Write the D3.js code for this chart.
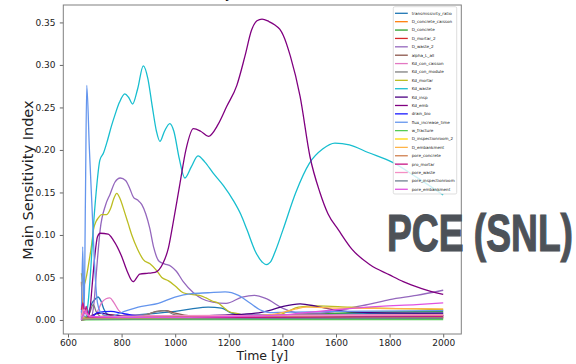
<!DOCTYPE html>
<html>
<head>
<meta charset="utf-8">
<script src="https://cdn.jsdelivr.net/npm/d3@7"></script>
<style>
  html, body { margin: 0; padding: 0; background: #fff; }
  svg { display: block; }
</style>
</head>
<body>
<svg id="chart" width="576" height="364"></svg>
<script>
// Main sensitivity index of each parameter over time, as [year, index] pairs
const transmissivityRatio = [[650,0],[668,0.003],[680,0.012],[690,0.02],[700,0.024],[712,0.027],[722,0.023],[735,0.012],[750,0.006],[780,0.004],[850,0.006],[936,0.008],[1000,0.01],[1061,0.013],[1123,0.015],[1173,0.014],[1211,0.008],[1260,0.006],[1400,0.006],[1600,0.007],[2000,0.008]];
const dConcreteCaisson = [[650,0.045],[654,0.018],[660,0.004],[700,0.003],[760,0.006],[800,0.004],[900,0.003],[1100,0.003],[1300,0.004],[1600,0.005],[2000,0.006]];
const dConcrete = [[650,0],[700,0.002],[1000,0.002],[1200,0.003],[1350,0.005],[1500,0.007],[1700,0.009],[2000,0.01]];
const dMortar2 = [[650,0.01],[656,0.002],[700,0.003],[900,0.002],[1500,0.002],[2000,0.003]];
const dWaste2 = [[650,0],[685,0.002],[697,0.02],[707,0.06],[720,0.106],[740,0.135],[757,0.148],[775,0.162],[795,0.167],[815,0.164],[830,0.155],[845,0.144],[860,0.141],[875,0.136],[890,0.125],[905,0.108],[920,0.085],[940,0.069],[960,0.066],[985,0.063],[1005,0.057],[1030,0.045],[1068,0.032],[1100,0.025],[1140,0.021],[1190,0.0196],[1250,0.027],[1295,0.029],[1340,0.025],[1400,0.014],[1466,0.008],[1530,0.008],[1590,0.0098],[1650,0.0138],[1730,0.019],[1800,0.024],[1900,0.029],[2000,0.035]];
const alphaLAll = [[650,0],[690,0.004],[750,0.003],[850,0.004],[900,0.007],[930,0.01],[965,0.011],[1000,0.008],[1050,0.005],[1200,0.004],[1600,0.004],[2000,0.005]];
const kdConCaisson = [[650,0.004],[660,0.014],[668,0.006],[690,0.004],[710,0.01],[725,0.02],[742,0.025],[756,0.026],[770,0.021],[790,0.011],[820,0.006],[1000,0.005],[1400,0.006],[2000,0.006]];
const kdConModule = [[650,0],[680,0.008],[694,0.018],[705,0.01],[725,0.004],[860,0.004],[920,0.009],[960,0.011],[1000,0.006],[1200,0.003],[2000,0.003]];
const kdMortar = [[650,0.055],[658,0.04],[668,0.05],[678,0.068],[688,0.088],[695,0.106],[705,0.116],[713,0.12],[725,0.124],[744,0.124],[760,0.132],[770,0.142],[782,0.149],[795,0.142],[812,0.126],[825,0.113],[838,0.1],[860,0.083],[881,0.071],[906,0.066],[931,0.058],[950,0.05],[975,0.046],[1000,0.04],[1030,0.032],[1060,0.03],[1090,0.029],[1115,0.026],[1140,0.022],[1160,0.02],[1180,0.015],[1200,0.01],[1240,0.007],[1270,0.004],[1320,0.003],[1380,0.005],[1420,0.01],[1460,0.015],[1530,0.0165],[1650,0.015],[1760,0.0138],[1900,0.013],[2000,0.012]];
const kdWaste = [[650,0],[665,0.002],[675,0.02],[685,0.06],[694,0.106],[705,0.15],[719,0.188],[732,0.196],[748,0.212],[762,0.228],[775,0.241],[792,0.256],[812,0.266],[826,0.262],[841,0.254],[860,0.272],[881,0.299],[898,0.284],[915,0.25],[930,0.222],[943,0.21],[960,0.222],[980,0.231],[995,0.222],[1015,0.19],[1036,0.167],[1060,0.18],[1085,0.193],[1110,0.186],[1141,0.173],[1180,0.158],[1216,0.141],[1245,0.124],[1268,0.106],[1300,0.08],[1325,0.068],[1339,0.065],[1355,0.068],[1375,0.082],[1402,0.106],[1450,0.15],[1500,0.184],[1550,0.201],[1596,0.208],[1650,0.206],[1720,0.197],[1813,0.185],[1900,0.168],[2000,0.147]];
const kdInsp = [[650,0],[680,0.004],[720,0.008],[760,0.006],[850,0.004],[973,0.004],[1100,0.005],[1200,0.006],[1300,0.008],[1360,0.012],[1403,0.016],[1466,0.019],[1528,0.016],[1590,0.012],[1700,0.009],[2000,0.008]];
const kdEmb = [[650,0],[675,0.002],[682,0.012],[690,0.04],[700,0.075],[710,0.098],[720,0.102],[750,0.101],[769,0.094],[800,0.075],[820,0.058],[843,0.045],[868,0.054],[900,0.055],[925,0.056],[955,0.067],[975,0.085],[990,0.11],[1018,0.161],[1040,0.2],[1068,0.225],[1095,0.222],[1124,0.216],[1160,0.23],[1192,0.251],[1230,0.276],[1260,0.31],[1285,0.341],[1305,0.352],[1324,0.354],[1350,0.351],[1372,0.347],[1390,0.342],[1403,0.335],[1430,0.31],[1466,0.263],[1503,0.192],[1540,0.15],[1570,0.125],[1609,0.106],[1660,0.083],[1727,0.065],[1800,0.053],[1851,0.045],[1920,0.037],[2000,0.03]];
const drainBio = [[650,0],[690,0.004],[712,0.009],[760,0.01],[800,0.008],[850,0.005],[950,0.003],[1200,0.003],[1500,0.004],[2000,0.005]];
const fluxIncreaseTime = [[650,0],[655,0.086],[660,0.002],[665,0.14],[670,0.276],[680,0.2],[690,0.13],[700,0.06],[710,0.02],[720,0.01],[740,0.005],[760,0.004],[780,0.006],[810,0.01],[850,0.014],[875,0.016],[937,0.0196],[999,0.027],[1061,0.031],[1123,0.032],[1186,0.033],[1236,0.029],[1279,0.02],[1316,0.012],[1354,0.0086],[1400,0.009],[1600,0.01],[2000,0.011]];
const wFracture = [[650,0],[1000,0.0005],[2000,0.0005]];
const dInspectionroom2 = [[650,0.002],[700,0.002],[1200,0.002],[2000,0.002]];
const dEmbankment = [[650,0],[700,0.002],[900,0.003],[1200,0.004],[1350,0.006],[1403,0.009],[1450,0.013],[1490,0.015],[1600,0.014],[2000,0.013]];
const poreConcrete = [[650,0.006],[660,0.01],[680,0.004],[800,0.004],[1200,0.004],[2000,0.005]];
const proMortar = [[650,0.012],[656,0.02],[662,0.008],[668,0.016],[676,0.004],[720,0.003],[1200,0.003],[2000,0.004]];
const poreWaste = [[650,0.004],[660,0.012],[672,0.006],[700,0.004],[1000,0.005],[1500,0.005],[2000,0.006]];
const poreInspectionroom = [[650,0.001],[2000,0.002]];
const poreEmbankment = [[650,0],[665,0.01],[680,0.004],[900,0.003],[1200,0.004],[1400,0.006],[1466,0.008],[1600,0.012],[1764,0.016],[1900,0.018],[2000,0.02]];

const seriesNames = ["transmissivity_ratio","D_concrete_caisson","D_concrete","D_mortar_2","D_waste_2","alpha_L_all","Kd_con_caisson","Kd_con_module","Kd_mortar","Kd_waste","Kd_insp","Kd_emb","drain_bio","flux_increase_time","w_fracture","D_inspectionroom_2","D_embankment","pore_concrete","pro_mortar","pore_waste","pore_inspectionroom","pore_embankment"];
const seriesValues = [transmissivityRatio,dConcreteCaisson,dConcrete,dMortar2,dWaste2,alphaLAll,kdConCaisson,kdConModule,kdMortar,kdWaste,kdInsp,kdEmb,drainBio,fluxIncreaseTime,wFracture,dInspectionroom2,dEmbankment,poreConcrete,proMortar,poreWaste,poreInspectionroom,poreEmbankment];
const palette = ["#1f77b4","#ff7f0e","#2ca02c","#d62728","#9467bd","#8c564b","#e377c2","#7f7f7f","#bcbd22","#17becf","#4b0082","#800080","#1a1aff","#6495ed","#55cc55","#ffd700","#ffb347","#d08050","#c71585","#f48fc4","#708090","#e052e0"];

const xTicks = [600,800,1000,1200,1400,1600,1800,2000];
const yTicks = [0,0.05,0.10,0.15,0.20,0.25,0.30,0.35];

const svg = d3.select("#chart");
const plot = { left: 63.3, right: 461.3, top: 5, bottom: 334 };

const x = d3.scaleLinear().domain([582.5, 2067.5]).range([plot.left, plot.right]);
const y = d3.scaleLinear().domain([-0.0165, 0.3705]).range([plot.bottom, plot.top]);

const font = "'DejaVu Sans', sans-serif";

// title sits above the frame, mostly beyond the top edge
svg.append("text")
  .attr("x", (plot.left + plot.right) / 2).attr("y", -2.5)
  .attr("text-anchor", "middle")
  .attr("font-family", font).attr("font-size", 14).attr("fill", "#111")
  .text("Main sensitivity indices over time (PCE)");

svg.append("defs").append("clipPath").attr("id", "plotClip")
  .append("rect")
  .attr("x", plot.left).attr("y", plot.top)
  .attr("width", plot.right - plot.left).attr("height", plot.bottom - plot.top);

// axes
const xAxis = svg.append("g")
  .attr("transform", `translate(0,${plot.bottom})`)
  .call(d3.axisBottom(x).tickValues(xTicks).tickFormat(d3.format("d")).tickSize(3.5).tickPadding(2.5));
const yAxis = svg.append("g")
  .attr("transform", `translate(${plot.left},0)`)
  .call(d3.axisLeft(y).tickValues(yTicks).tickFormat(d3.format(".2f")).tickSize(3.5).tickPadding(4.3));

[xAxis, yAxis].forEach(g => {
  g.select(".domain").remove();
  g.selectAll(".tick line").attr("stroke", "#555").attr("stroke-width", 0.9);
  g.selectAll(".tick text").attr("font-family", font).attr("font-size", 9).attr("fill", "#222");
});

// lines
const line = d3.line()
  .x(d => x(d[0]))
  .y(d => y(d[1]))
  .curve(d3.curveMonotoneX);

const lines = svg.append("g").attr("clip-path", "url(#plotClip)");
seriesValues.forEach((vals, i) => {
  lines.append("path")
    .datum(vals)
    .attr("d", line)
    .attr("fill", "none")
    .attr("stroke", palette[i])
    .attr("stroke-width", 1.3)
    .attr("stroke-linejoin", "round");
});

// frame
svg.append("rect")
  .attr("x", plot.left).attr("y", plot.top)
  .attr("width", plot.right - plot.left).attr("height", plot.bottom - plot.top)
  .attr("fill", "none").attr("stroke", "#808080").attr("stroke-width", 1);

// axis labels
svg.append("text")
  .attr("x", (plot.left + plot.right) / 2).attr("y", 360)
  .attr("text-anchor", "middle")
  .attr("font-family", font).attr("font-size", 12.5).attr("fill", "#222")
  .text("Time [y]");
svg.append("text")
  .attr("transform", "translate(33,180) rotate(-90)")
  .attr("text-anchor", "middle")
  .attr("font-family", font).attr("font-size", 14.5).attr("fill", "#222")
  .text("Main Sensitivity Index");

// legend
const legend = svg.append("g");
const legTop = 6.7, legLeft = 393.3, rowH = 8.38;
legend.append("rect")
  .attr("x", legLeft).attr("y", legTop)
  .attr("width", 63.4).attr("height", 187.3)
  .attr("rx", 1.5)
  .attr("fill", "#fff").attr("fill-opacity", 0.8)
  .attr("stroke", "#d0d0d0").attr("stroke-width", 0.7);
seriesNames.forEach((name, i) => {
  const cy = legTop + 6.6 + i * rowH;
  legend.append("line")
    .attr("x1", legLeft + 1.7).attr("x2", legLeft + 14.5)
    .attr("y1", cy).attr("y2", cy)
    .attr("stroke", palette[i]).attr("stroke-width", 1.3);
  legend.append("text")
    .attr("x", legLeft + 18.4).attr("y", cy)
    .attr("dy", "0.35em")
    .attr("font-family", font).attr("font-size", 4.1).attr("fill", "#222")
    .text(name);
});

// method tag
svg.append("text")
  .attr("x", 387).attr("y", 251)
  .attr("font-family", "'Liberation Sans', Arial, sans-serif")
  .attr("font-weight", "bold")
  .attr("font-size", 52)
  .attr("textLength", 186)
  .attr("lengthAdjust", "spacingAndGlyphs")
  .attr("fill", "#4d5258")
  .attr("stroke", "#4d5258").attr("stroke-width", 1.2)
  .text("PCE (SNL)");
</script>
</body>
</html>
